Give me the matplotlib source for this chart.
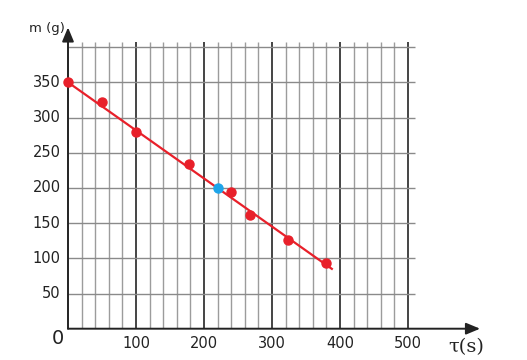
import numpy as np
import matplotlib
matplotlib.use("Agg")
import matplotlib.pyplot as plt

# measured points (t in s, m in g)
t_points = [0, 50, 100, 178, 240, 268, 323, 380]
m_points = [350, 322, 279, 234, 194, 161, 126, 93]
t_blue = [220]
m_blue = [200]
# fitted line
line_t = [0, 388]
line_m = [350, 85]

x_ticks = [100, 200, 300, 400, 500]
y_ticks = [50, 100, 150, 200, 250, 300, 350]

red = "#e8202a"
blue = "#1ea5ea"

fig = plt.figure(figsize=(5.27, 3.6), dpi=100)
# x: 0.68 px/unit from px 68, y: 0.704 px/unit from px 31.3 (bottom)
ax = fig.add_axes([68 / 527, 31.3 / 360, 620 * 0.68 / 527, 430 * 0.704 / 360])
ax.set_xlim(0, 620)
ax.set_ylim(0, 430)
ax.axis("off")

# grid
for x in range(20, 501, 20):
    if x % 100 == 0:
        ax.vlines(x, 0, 407, color="#444444", lw=1.4, zorder=1)
    else:
        ax.vlines(x, 0, 407, color="#9c9c9c", lw=1.0, zorder=1)
for y in range(50, 401, 50):
    ax.hlines(y, 0, 510, color="#8a8a8a", lw=1.0, zorder=1)

# axes with arrows
ax.annotate("", xy=(606, 0), xytext=(0, 0),
            arrowprops=dict(arrowstyle="-|>,head_length=0.6,head_width=0.25",
                            color="#222222", lw=1.4,
                            mutation_scale=14, shrinkA=0, shrinkB=0),
            annotation_clip=False, zorder=3)
ax.annotate("", xy=(0, 428), xytext=(0, 0),
            arrowprops=dict(arrowstyle="-|>,head_length=0.6,head_width=0.25",
                            color="#222222", lw=1.4,
                            mutation_scale=14, shrinkA=0, shrinkB=0),
            annotation_clip=False, zorder=3)

# tick labels
for x in x_ticks:
    ax.text(x, -11, str(x), ha="center", va="top", fontsize=10.5, color="#222222")
for y in y_ticks:
    ax.text(-11, y, str(y), ha="right", va="center", fontsize=10.5, color="#222222")
ax.text(-15, -1, "0", ha="center", va="top", fontsize=14, color="#222222")

ax.text(-31, 426, "m (g)", ha="center", va="center", fontsize=9.5, color="#222222")
ax.text(585, -14, "τ(s)", ha="center", va="top", fontsize=14,
        family="DejaVu Serif", color="#222222")

# line and points
ax.plot(line_t, line_m, color=red, lw=1.6, zorder=4, clip_on=False)
ax.plot(t_points, m_points, "o", color=red, ms=6.5, zorder=5, clip_on=False)
ax.plot(t_blue, m_blue, "o", color=blue, ms=6.5, zorder=6, clip_on=False)

fig.savefig("out.png", dpi=100)
